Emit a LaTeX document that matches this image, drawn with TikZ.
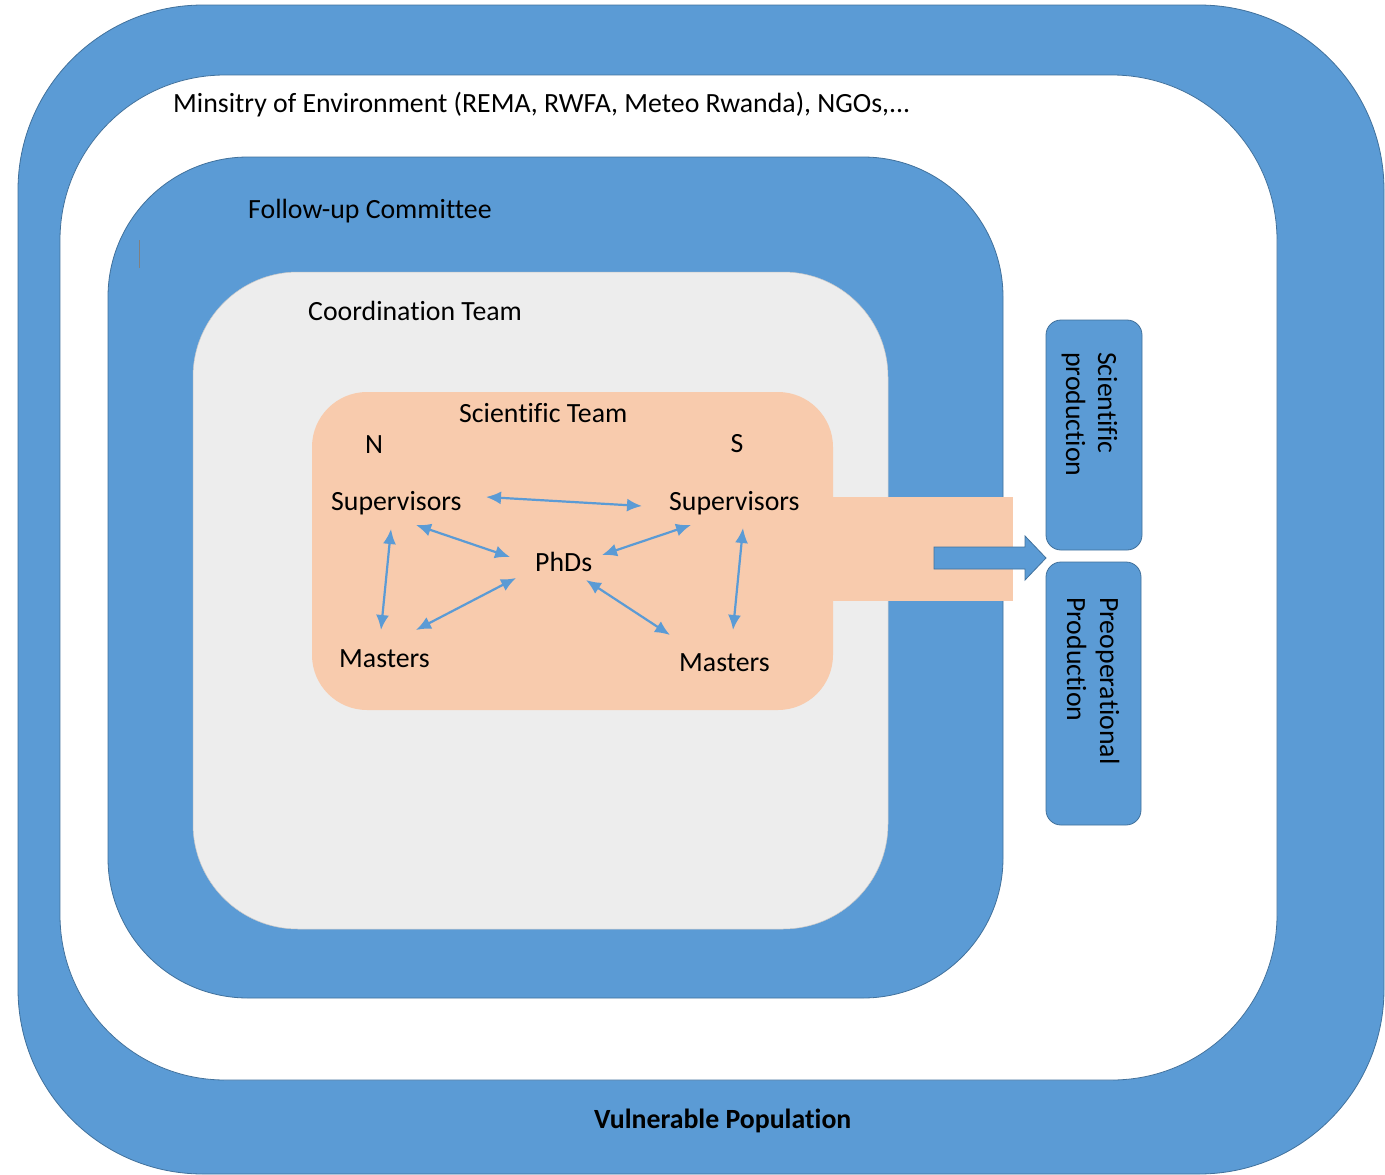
\documentclass[tikz,border=0pt]{standalone}
\usepackage{fontspec}
\setmainfont{Carlito}[Ligatures=NoCommon]
\usetikzlibrary{arrows.meta}
\definecolor{ringblue}{HTML}{5B9BD5}
\definecolor{edgeblue}{HTML}{41719C}
\definecolor{peachfill}{HTML}{F8CBAD}
\definecolor{panelgray}{HTML}{EDEDED}
\begin{document}
\begin{tikzpicture}[x=1pt,y=-1pt,
  panel/.style={rectangle, inner sep=0pt, outer sep=0pt, anchor=north west},
  bluepanel/.style={panel, fill=ringblue, draw=edgeblue, line width=0.8pt},
  lbl/.style={inner sep=0pt, anchor=base west, font=\fontsize{27.8}{33}\selectfont, text=black},
  link/.style={draw=ringblue, line width=2.2pt, {Latex[length=15pt,width=13pt]}-{Latex[length=15pt,width=13pt]}},
]
\useasboundingbox (0,0) rectangle (1385,1175);
\fill[white] (0,0) rectangle (1385,1175);
% nested panels
\node[bluepanel, rounded corners=185pt, minimum width=1366pt, minimum height=1169pt] (vuln) at (18,5) {};
\node[panel, fill=white, draw=edgeblue, line width=0.8pt, rounded corners=165pt, minimum width=1217pt, minimum height=1005pt] (ministry) at (60,75) {};
\node[bluepanel, rounded corners=140pt, minimum width=895pt, minimum height=841pt] (follow) at (108,157) {};
\node[panel, fill=panelgray, draw=panelgray!85!black, line width=0.5pt, rounded corners=105pt, minimum width=695pt, minimum height=657pt] (coord) at (193,272) {};
\node[panel, fill=peachfill, minimum width=193pt, minimum height=104pt] (tab) at (820,497) {};
\node[panel, fill=peachfill, rounded corners=55pt, minimum width=521pt, minimum height=318pt] (sci) at (312,392) {};
% cursor artefact
\draw[gray, line width=0.8pt] (139,240) -- (139,268);
% panel labels
\node[lbl] (tministry) at (173,112) {Minsitry of Environment (REMA, RWFA, Meteo Rwanda), NGOs,...};
\node[lbl] (tfollow) at (248,218) {Follow-up Committee};
\node[lbl] (tcoord) at (308,320) {Coordination Team};
\node[lbl] (tsci) at (459,422) {Scientific Team};
\node[lbl, anchor=base] (tN) at (374,453) {N};
\node[lbl, anchor=base] (tS) at (737,452) {S};
\node[lbl] (supN) at (331,510) {Supervisors};
\node[lbl] (supS) at (669,510) {Supervisors};
\node[lbl] (phd) at (535,571) {PhDs};
\node[lbl] (masN) at (339,667) {Masters};
\node[lbl] (masS) at (679,671) {Masters};
\node[lbl, font=\fontsize{27.8}{33}\selectfont\bfseries] (tvuln) at (594,1128) {Vulnerable Population};
% connector end points
\coordinate (a1s) at (486,497); \coordinate (a1e) at (642,506);
\coordinate (a2s) at (416,525); \coordinate (a2e) at (510,557);
\coordinate (a3s) at (691,525); \coordinate (a3e) at (602,555);
\coordinate (a4s) at (391,529); \coordinate (a4e) at (381,630);
\coordinate (a5s) at (516,578); \coordinate (a5e) at (416,630);
\coordinate (a6s) at (586,580); \coordinate (a6e) at (670,635);
\coordinate (a7s) at (743,528); \coordinate (a7e) at (733,630);
\draw[link] (a1s) -- (a1e);
\draw[link] (a2s) -- (a2e);
\draw[link] (a3s) -- (a3e);
\draw[link] (a4s) -- (a4e);
\draw[link] (a5s) -- (a5e);
\draw[link] (a6s) -- (a6e);
\draw[link] (a7s) -- (a7e);
% output boxes
\node[bluepanel, rounded corners=15pt, minimum width=96pt, minimum height=230pt] (sciprod) at (1046,320) {};
\node[bluepanel, rounded corners=15pt, minimum width=95pt, minimum height=263pt] (preprod) at (1046,562) {};
\node[lbl, rotate=-90] (tsp1) at (1098,352) {Scientific};
\node[lbl, rotate=-90] (tsp2) at (1066,352) {production};
\node[lbl, rotate=-90] (tpp1) at (1100,597) {Preoperational};
\node[lbl, rotate=-90] (tpp2) at (1067,597) {Production};
% block arrow
\filldraw[fill=ringblue, draw=edgeblue, line width=0.8pt] (934,547) -- (1025,547) -- (1025,536) -- (1046,558) -- (1025,580) -- (1025,569) -- (934,569) -- cycle;
\end{tikzpicture}
\end{document}
